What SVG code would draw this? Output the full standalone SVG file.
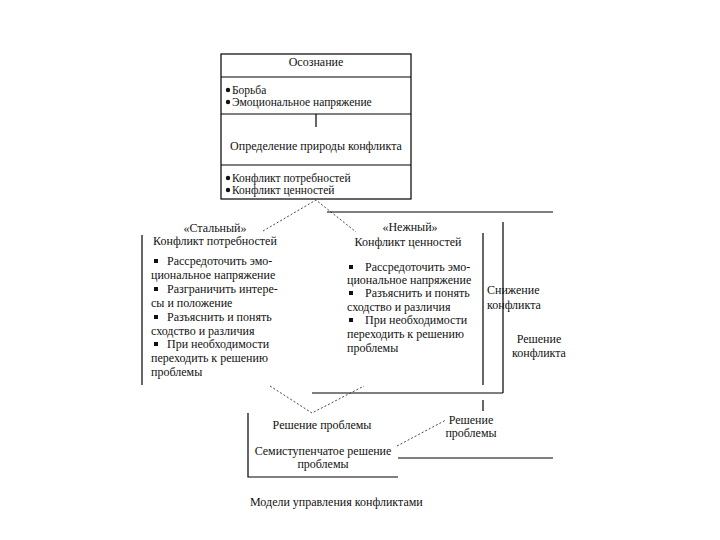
<svg xmlns="http://www.w3.org/2000/svg" width="720" height="540" viewBox="0 0 720 540">
<style>
text{font-family:"Liberation Serif","Times New Roman",serif;font-size:12px;fill:#111}
.c{text-anchor:middle}
.s{font-size:11.5px}
.ln{stroke:#000;stroke-width:1.2;fill:none}
.ds{stroke:#333;stroke-width:0.9;stroke-dasharray:2,2;fill:none}
.b{fill:#111}
</style>
<rect width="720" height="540" fill="#fff"/>
<g id="connectors">
<path class="ds" d="M263,231 L316,200 L356,232"/>
<line class="ln" x1="327" y1="212" x2="553" y2="212"/>
<line class="ln" x1="142" y1="235" x2="142" y2="385"/>
<line class="ln" x1="483" y1="233" x2="483" y2="385"/>
<line class="ln" x1="503" y1="222" x2="503" y2="393"/>
<line class="ln" x1="312" y1="393" x2="503" y2="393"/>
<line class="ln" x1="483" y1="400" x2="483" y2="411"/>
<path class="ds" d="M270,386 L312,413 L364,386"/>
<line class="ds" x1="397" y1="446" x2="446" y2="420"/>
<line class="ln" x1="398" y1="458" x2="553" y2="458"/>
<line class="ln" x1="316" y1="114" x2="316" y2="127"/>
</g>
<g id="node-awareness">
<rect class="ln" x="221" y="54" width="190" height="145"/>
<line class="ln" x1="221" y1="77" x2="411" y2="77"/>
<line class="ln" x1="221" y1="114" x2="411" y2="114"/>
<line class="ln" x1="221" y1="165" x2="411" y2="165"/>
<text class="c" x="316" y="66">Осознание</text>
<circle class="b" cx="228" cy="90" r="2.2"/><text class="s" x="232" y="94">Борьба</text>
<circle class="b" cx="228" cy="102" r="2.2"/><text class="s" x="232" y="106">Эмоциональное напряжение</text>
<text class="c" x="316" y="150">Определение природы конфликта</text>
<circle class="b" cx="228" cy="178" r="2.2"/><text class="s" x="232" y="182">Конфликт потребностей</text>
<circle class="b" cx="228" cy="190" r="2.2"/><text class="s" x="232" y="194">Конфликт ценностей</text>
</g>
<g id="node-steel">
<text class="c" x="215" y="232">«Стальный»</text>
<text class="c" x="215" y="245">Конфликт потребностей</text>
<rect class="b" x="154" y="259" width="4" height="4"/><text x="167" y="265">Рассредоточить эмо-</text>
<text x="151" y="279">циональное напряжение</text>
<rect class="b" x="154" y="287" width="4" height="4"/><text x="167" y="293">Разграничить интере-</text>
<text x="151" y="307">сы и положение</text>
<rect class="b" x="154" y="315" width="4" height="4"/><text x="167" y="321">Разъяснить и понять</text>
<text x="151" y="335">сходство и различия</text>
<rect class="b" x="154" y="342" width="4" height="4"/><text x="167" y="348">При необходимости</text>
<text x="151" y="362">переходить к решению</text>
<text x="151" y="376">проблемы</text>
</g>
<g id="node-soft">
<text class="c" x="410" y="231">«Нежный»</text>
<text class="c" x="408" y="246">Конфликт ценностей</text>
<rect class="b" x="349" y="265" width="4" height="4"/><text x="365" y="271">Рассредоточить эмо-</text>
<text x="347" y="284">циональное напряжение</text>
<rect class="b" x="349" y="291" width="4" height="4"/><text x="365" y="297">Разъяснить и понять</text>
<text x="347" y="311">сходство и различия</text>
<rect class="b" x="349" y="318" width="4" height="4"/><text x="365" y="324">При необходимости</text>
<text x="347" y="338">переходить к решению</text>
<text x="347" y="352">проблемы</text>
</g>
<g id="node-reduce">
<text x="487" y="294">Снижение</text>
<text x="487" y="309">конфликта</text>
</g>
<g id="node-resolve">
<text class="c" x="539" y="343">Решение</text>
<text class="c" x="539" y="357">конфликта</text>
</g>
<g id="node-problem">
<text class="c" x="322" y="429">Решение проблемы</text>
<text class="c" x="323" y="455">Семиступенчатое решение</text>
<text class="c" x="323" y="468">проблемы</text>
<polyline class="ln" points="248,413 248,477 398,477"/>
</g>
<g id="node-problem-right">
<text class="c" x="471" y="424">Решение</text>
<text class="c" x="471" y="437">проблемы</text>
</g>
<g id="caption">
<text x="250" y="506">Модели управления конфликтами</text>
</g>
</svg>
